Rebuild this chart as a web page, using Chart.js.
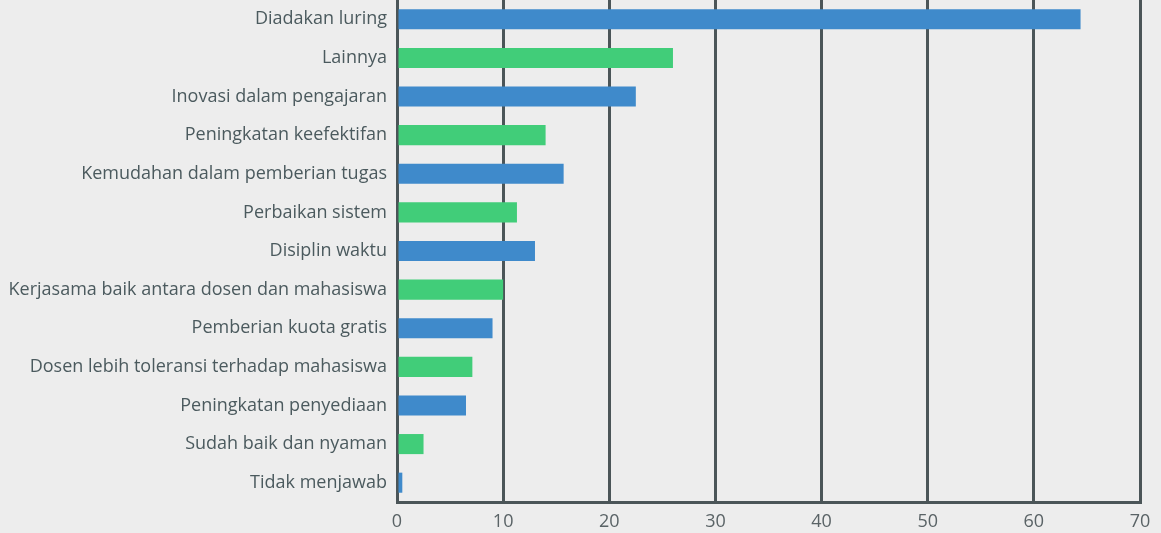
<!DOCTYPE html>
<html>
<head>
<meta charset="utf-8">
<script src="https://cdn.jsdelivr.net/npm/chart.js@4/dist/chart.umd.min.js"></script>
<style>
  html, body { margin: 0; padding: 0; background: #ededed; }
  #wrap { width: 1161px; height: 533px; }
</style>
</head>
<body>
<div id="wrap"><canvas id="barChart" width="1161" height="533"></canvas></div>
<script>
// Data kategori dan nilai
const categories = [
  'Diadakan luring',
  'Lainnya',
  'Inovasi dalam pengajaran',
  'Peningkatan keefektifan',
  'Kemudahan dalam pemberian tugas',
  'Perbaikan sistem',
  'Disiplin waktu',
  'Kerjasama baik antara dosen dan mahasiswa',
  'Pemberian kuota gratis',
  'Dosen lebih toleransi terhadap mahasiswa',
  'Peningkatan penyediaan',
  'Sudah baik dan nyaman',
  'Tidak menjawab'
];
const values = [64.4, 26, 22.5, 14, 15.7, 11.3, 13, 10, 9, 7.1, 6.5, 2.5, 0.5];
const xTicks = [0, 10, 20, 30, 40, 50, 60, 70];

const BLUE = '#3f8acb';
const GREEN = '#41cd79';
const GRID = '#4b5558';

const ctx = document.getElementById('barChart').getContext('2d');
new Chart(ctx, {
  type: 'bar',
  data: {
    labels: categories,
    datasets: [{
      data: values,
      backgroundColor: values.map((v, i) => i % 2 === 0 ? BLUE : GREEN),
      borderWidth: 0,
      barPercentage: 0.52,
      categoryPercentage: 1
    }]
  },
  options: {
    indexAxis: 'y',
    responsive: false,
    animation: false,
    layout: { padding: { top: 0, right: 21, bottom: 0, left: 0 } },
    plugins: { legend: { display: false }, tooltip: { enabled: false } },
    scales: {
      x: {
        min: 0,
        max: 70,
        afterBuildTicks: (axis) => { axis.ticks = xTicks.map(v => ({ value: v })); },
        afterFit: (axis) => { axis.height = 31; },
        grid: { color: GRID, lineWidth: 3, drawTicks: false },
        border: { color: GRID, width: 3 },
        ticks: { color: '#5a6366', font: { family: 'Open Sans', size: 18, weight: '500' }, padding: 9 }
      },
      y: {
        afterFit: (axis) => {
          axis.width = 397;
          axis.paddingTop = 0;
          axis.paddingBottom = 0;
        },
        grid: { display: false, drawTicks: false },
        border: { color: GRID, width: 3 },
        ticks: { color: '#4b5a5e', font: { family: 'Open Sans', size: 18, weight: '500' }, padding: 10 }
      }
    }
  }
});
</script>
</body>
</html>
